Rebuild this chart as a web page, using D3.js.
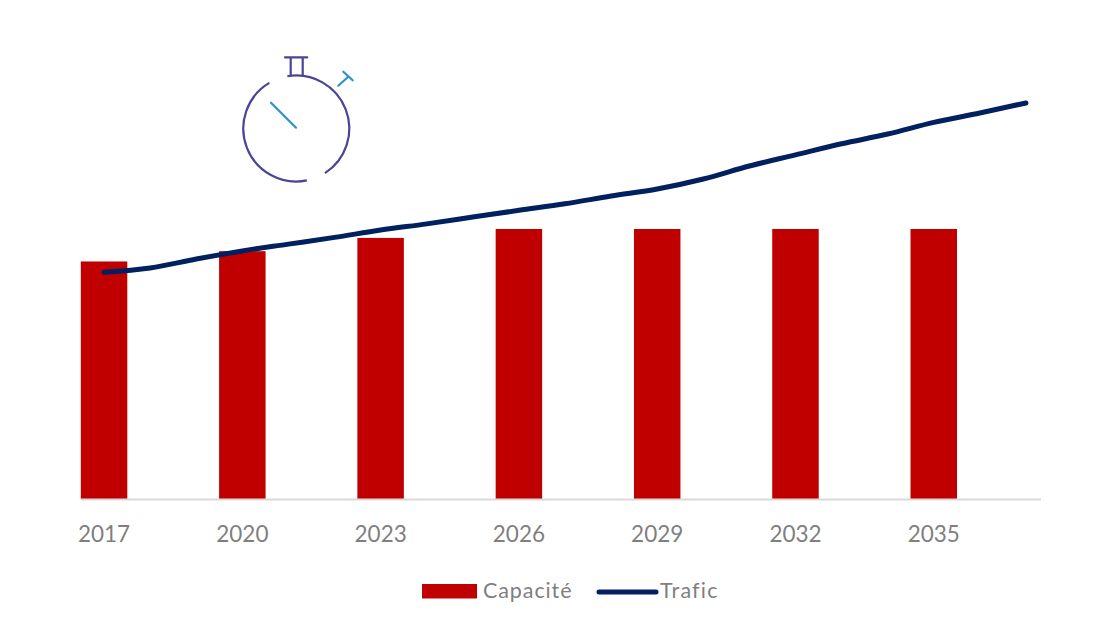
<!DOCTYPE html>
<html lang="fr">
<head>
<meta charset="UTF-8">
<script src="https://cdn.jsdelivr.net/npm/d3@7/dist/d3.min.js"></script>
<title>Capacité et trafic</title>
<style>
    html, body { margin: 0; padding: 0; background: #fff; }
    svg { display: block; }
    text { font-family: Lato, "Open Sans", sans-serif; fill: #7f7f7f; }
</style>
</head>
<body>
<script>
    var years = [2017,2018,2019,2020,2021,2022,2023,2024,2025,2026,2027,2028,2029,2030,2031,2032,2033,2034,2035,2036,2037];
    var tickYears = [2017,2020,2023,2026,2029,2032,2035];
    var capaciteYears = [2017,2020,2023,2026,2029,2032,2035];
    var capacite = [88,91.8,96.7,100,100,100,100];
    var trafic = [84,85.6,88.9,91.9,94.4,96.9,99.6,101.9,104.4,106.9,109.3,112.2,114.8,118.5,123.3,127.4,131.5,135.1,139.4,142.9,146.6];
    var legendLabels = ["Capacité","Trafic"];

    var svg = d3.select("body").append("svg").attr("width",1118).attr("height",640);

    var x = d3.scaleBand().domain(years).range([81,1049]).paddingInner(0).paddingOuter(0);
    var y = d3.scaleLinear().domain([0,100]).range([499.5,229]);
    var barW = 46.5;

    // barres
    svg.selectAll("rect.capacite")
        .data(capaciteYears)
        .enter().append("rect")
        .attr("class","capacite")
        .attr("x",function(d){ return x(d) + x.bandwidth()/2 - barW/2; })
        .attr("width",barW)
        .attr("y",function(d,i){ return y(capacite[i]); })
        .attr("height",function(d,i){ return y(0) - y(capacite[i]); })
        .attr("fill","#c00000");

    // axe
    var axis = d3.axisBottom(x).tickValues(tickYears).tickSize(0).tickPadding(27).tickFormat(d3.format("d"));
    var gx = svg.append("g").attr("transform","translate(0,"+y(0)+")").call(axis);
    gx.select(".domain").attr("stroke","#d9d9d9").attr("stroke-width",2).attr("d","M81,0H1041");
    gx.selectAll("text").attr("font-size",22.5).attr("fill","#7f7f7f")
        .attr("font-family","Lato");

    // ligne
    var line = d3.line()
        .x(function(d,i){ return x(years[i]) + x.bandwidth()/2; })
        .y(function(d){ return y(d); })
        .curve(d3.curveMonotoneX);
    svg.append("path").datum(trafic)
        .attr("d",line).attr("fill","none")
        .attr("stroke","#002060").attr("stroke-width",5)
        .attr("stroke-linecap","round").attr("stroke-linejoin","round");

    // chronometre
    var c = svg.append("g").attr("fill","none").attr("stroke-linecap","round");
    var arc = d3.arc().innerRadius(53).outerRadius(53);
    var cc = c.append("g").attr("transform","translate(296.3,128.5)").attr("stroke","#4a4595").attr("stroke-width",2.2);
    cc.append("path").attr("d",arc({startAngle:-0.17,endAngle:2.57}));
    cc.append("path").attr("d",arc({startAngle:2.94,endAngle:5.75}));
    c.append("path").attr("stroke","#4a4595").attr("stroke-width",2.2)
        .attr("d","M285,57.3H307.3M290.7,58V75M302.7,58V75");
    c.append("path").attr("stroke","#2a93c9").attr("stroke-width",2.2)
        .attr("d","M271,102.7L296,127.7M338.3,85.7L348.3,76.7M343.3,71.7L352.7,80.3");

    // legende
    var leg = svg.append("g");
    leg.append("rect").attr("x",422).attr("y",584).attr("width",55).attr("height",14.5).attr("fill","#c00000");
    leg.append("text").attr("x",483).attr("y",598).attr("font-size",21.5).attr("letter-spacing",0.9).text(legendLabels[0]);
    leg.append("line").attr("x1",599).attr("x2",656).attr("y1",592).attr("y2",592)
        .attr("stroke","#002060").attr("stroke-width",5).attr("stroke-linecap","round");
    leg.append("text").attr("x",660).attr("y",598).attr("font-size",21.5).attr("letter-spacing",1.2).text(legendLabels[1]);
</script>
</body>
</html>
